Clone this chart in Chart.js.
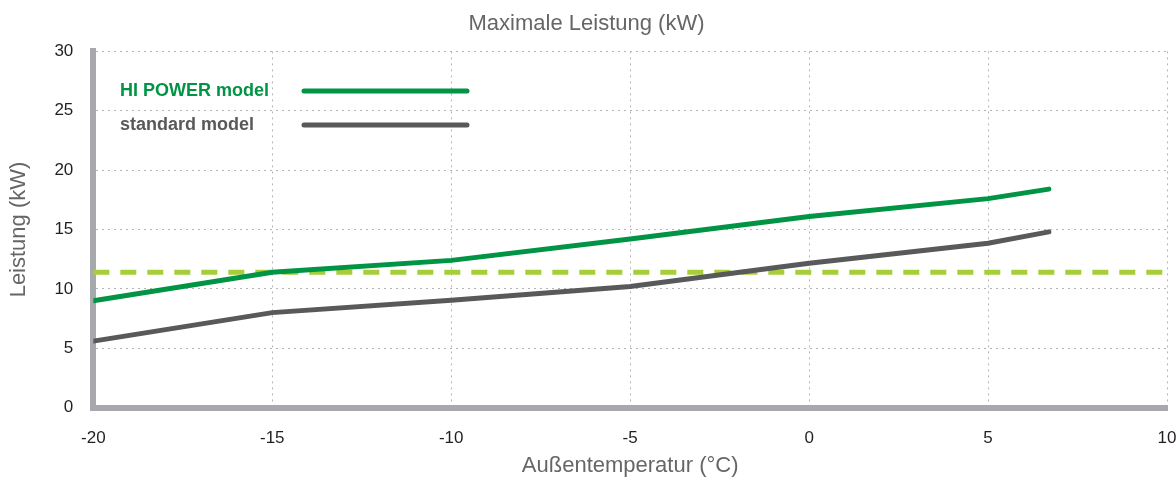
<!DOCTYPE html>
<html>
<head>
<meta charset="utf-8">
<script src="https://cdn.jsdelivr.net/npm/chart.js@4.4.1/dist/chart.umd.min.js"></script>
<style>
    html, body { margin: 0; padding: 0; background: #fff; }
    #wrap { width: 1176px; height: 480px; }
</style>
</head>
<body>
<div id="wrap"><canvas id="c"></canvas></div>
<script>
    // Außentemperatur (°C) for each reading
    const temps = [-20, -15, -10, -5, 0, 5, 6.7];
    const hiPower = [9.0, 11.4, 12.4, 14.2, 16.1, 17.6, 18.4];
    const standard = [5.6, 8.0, 9.05, 10.2, 12.15, 13.85, 14.8];
    // dashed reference level across the whole range
    const refTemps = [-20, 10];
    const refLevel = [11.4, 11.4];

    const seriesNames = ['HI POWER model', 'standard model'];
    const titleText = 'Maximale Leistung (kW)';
    const xTitle = 'Außentemperatur (°C)';
    const yTitle = 'Leistung (kW)';

    const GREEN = '#009444';
    const GREY = '#58595b';
    const LIME = '#a6ce39';
    const FONT = "'Liberation Sans', Arial, sans-serif";

    function pts(xs, ys) {
        return xs.map((x, i) => ({ x: x, y: ys[i] }));
    }

    // legend drawn as text followed by a line sample, inside the plot
    const inlineLegend = {
        id: 'inlineLegend',
        afterDraw(chart) {
            const ctx = chart.ctx;
            const rows = [
                { y: 91, ds: chart.data.datasets[0] },
                { y: 125, ds: chart.data.datasets[1] }
            ];
            ctx.save();
            rows.forEach(r => {
                ctx.font = 'bold 18px ' + FONT;
                ctx.fillStyle = r.ds.borderColor;
                ctx.textBaseline = 'middle';
                ctx.textAlign = 'left';
                ctx.fillText(r.ds.label, 120, r.y);
                ctx.beginPath();
                ctx.lineCap = 'round';
                ctx.lineWidth = 5;
                ctx.strokeStyle = r.ds.borderColor;
                ctx.moveTo(304, r.y);
                ctx.lineTo(467, r.y);
                ctx.stroke();
            });
            ctx.restore();
        }
    };

    // x axis title sits closer to the tick labels than chart.js allows
    const xAxisTitle = {
        id: 'xAxisTitle',
        afterDraw(chart) {
            const ctx = chart.ctx;
            const a = chart.chartArea;
            ctx.save();
            ctx.font = '22px ' + FONT;
            ctx.fillStyle = '#666';
            ctx.textAlign = 'center';
            ctx.textBaseline = 'middle';
            ctx.fillText(xTitle, (a.left + a.right) / 2, 466);
            ctx.restore();
        }
    };

    const gridOpts = { color: '#b4b4b4', lineWidth: 1, drawTicks: false };

    new Chart(document.getElementById('c'), {
        type: 'line',
        data: {
            datasets: [
                {
                    label: seriesNames[0],
                    data: pts(temps, hiPower),
                    borderColor: GREEN,
                    borderWidth: 5,
                    pointRadius: 0,
                    tension: 0,
                    borderCapStyle: 'round'
                },
                {
                    label: seriesNames[1],
                    data: pts(temps, standard),
                    borderColor: GREY,
                    borderWidth: 5,
                    pointRadius: 0,
                    tension: 0,
                    borderCapStyle: 'round'
                },
                {
                    label: 'ref',
                    data: pts(refTemps, refLevel),
                    borderColor: LIME,
                    borderWidth: 5,
                    borderDash: [16, 11],
                    pointRadius: 0,
                    tension: 0,
                    clip: false
                }
            ]
        },
        options: {
            responsive: true,
            maintainAspectRatio: false,
            animation: false,
            layout: { padding: { left: 6, right: 9, top: 0, bottom: 10 } },
            plugins: {
                legend: { display: false },
                tooltip: { enabled: false },
                title: {
                    display: true,
                    text: titleText,
                    color: '#666',
                    font: { family: FONT, size: 22, weight: 'normal' },
                    padding: { top: 11, bottom: 14 }
                }
            },
            scales: {
                x: {
                    type: 'linear',
                    min: -20,
                    max: 10,
                    ticks: {
                        stepSize: 5,
                        color: '#231f20',
                        padding: 21,
                        font: { family: FONT, size: 17 }
                    },
                    grid: gridOpts,
                    border: { color: '#a7a9ac', width: 6, dash: [2, 4] },
                    title: { display: false },
                    afterFit: function (scale) { scale.paddingRight = 0; }
                },
                y: {
                    min: 0,
                    max: 30,
                    ticks: {
                        stepSize: 5,
                        color: '#231f20',
                        padding: 20,
                        font: { family: FONT, size: 17 }
                    },
                    grid: gridOpts,
                    border: { color: '#a7a9ac', width: 6, dash: [2, 4] },
                    title: {
                        display: true,
                        text: yTitle,
                        color: '#666',
                        font: { family: FONT, size: 22 },
                        padding: { top: 0, bottom: 2 }
                    }
                }
            }
        },
        plugins: [inlineLegend, xAxisTitle]
    });
</script>
</body>
</html>
